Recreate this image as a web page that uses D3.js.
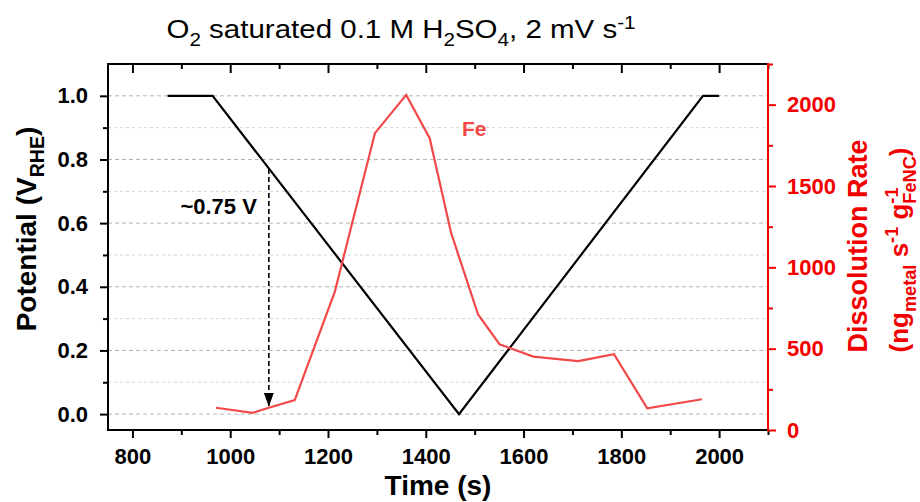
<!DOCTYPE html>
<html>
<head>
<meta charset="utf-8">
<script src="https://cdn.jsdelivr.net/npm/d3@7"></script>
<style>
  body { margin: 0; background: #fff; }
  svg { display: block; font-family: "Liberation Sans", Arial, sans-serif; }
</style>
</head>
<body>
<div id="chart"></div>
<script>
(function() {
    'use strict';

    // potential program (black, left axis)
    const potTime = [872, 964, 1468, 1967, 2000];
    const potValue = [1.0, 1.0, 0.0, 1.0, 1.0];

    // Fe dissolution rate (red, right axis)
    const feTime = [971, 1046, 1079, 1132, 1214, 1296, 1360, 1408, 1452, 1507, 1551, 1620, 1712, 1785, 1853, 1965];
    const feRate = [137, 106, 137, 184, 851, 1825, 2060, 1794, 1210, 710, 527, 451, 424, 466, 133, 189];

    // tick labels
    const xTicks = [800, 1000, 1200, 1400, 1600, 1800, 2000];
    const xMinor = [900, 1100, 1300, 1500, 1700, 1900, 2100];
    const yLeftTicks = [0.0, 0.2, 0.4, 0.6, 0.8, 1.0];
    const yLeftMinor = [0.1, 0.3, 0.5, 0.7, 0.9];
    const yRightTicks = [0, 500, 1000, 1500, 2000];
    const yRightMinor = [250, 750, 1250, 1750, 2250];

    // annotation
    const arrowTime = 1079;
    const arrowFrom = 0.77;   // V, on the black line
    const arrowTo = 137;      // rate, on the red line

    const width = 920, height = 502;
    const margin = { top: 64, right: 152, bottom: 72, left: 108 };
    const W = width - margin.left - margin.right;
    const H = height - margin.top - margin.bottom;

    const RED = '#f20000';
    const LINE_RED = '#f24848';

    const svg = d3.select('#chart').append('svg')
        .attr('width', width)
        .attr('height', height);

    const g = svg.append('g')
        .attr('transform', `translate(${margin.left},${margin.top})`);

    const x = d3.scaleLinear().domain([750, 2100]).range([0, W]);
    const yL = d3.scaleLinear().domain([-0.05, 1.1]).range([H, 0]);
    const yR = d3.scaleLinear().domain([0, 2250]).range([H, 0]);

    // grid lines
    g.append('g').selectAll('line.minor')
        .data(yLeftMinor)
        .enter().append('line')
        .attr('x1', 0).attr('x2', W)
        .attr('y1', d => yL(d)).attr('y2', d => yL(d))
        .attr('stroke', '#d4d4d4')
        .attr('stroke-width', 1)
        .attr('stroke-dasharray', '3,3');
    g.append('g').selectAll('line.major')
        .data(yLeftTicks)
        .enter().append('line')
        .attr('x1', 0).attr('x2', W)
        .attr('y1', d => yL(d)).attr('y2', d => yL(d))
        .attr('stroke', '#b4b4b4')
        .attr('stroke-width', 1)
        .attr('stroke-dasharray', '4,3');

    // axes
    function styleAxis(sel, color) {
        sel.selectAll('.domain').remove();
        sel.selectAll('line').attr('stroke', color).attr('stroke-width', 2);
        sel.selectAll('text')
            .attr('fill', color)
            .style('font-size', '22px')
            .style('font-weight', 'bold')
            .style('font-family', '"Liberation Sans", Arial, sans-serif');
    }

    const xAxis = g.append('g').attr('transform', `translate(0,${H})`)
        .call(d3.axisBottom(x).tickValues(xTicks).tickSize(8).tickPadding(10).tickFormat(d3.format('d')));
    styleAxis(xAxis, '#000');
    const xAxisMinor = g.append('g').attr('transform', `translate(0,${H})`)
        .call(d3.axisBottom(x).tickValues(xMinor).tickSize(5).tickFormat(''));
    styleAxis(xAxisMinor, '#000');

    const topAxis = g.append('g')
        .call(d3.axisBottom(x).tickValues(xTicks).tickSize(9).tickFormat(''));
    styleAxis(topAxis, '#000');
    const topAxisMinor = g.append('g')
        .call(d3.axisBottom(x).tickValues(xMinor).tickSize(5).tickFormat(''));
    styleAxis(topAxisMinor, '#000');

    const leftAxis = g.append('g')
        .call(d3.axisLeft(yL).tickValues(yLeftTicks).tickSize(8).tickPadding(12).tickFormat(d3.format('.1f')));
    styleAxis(leftAxis, '#000');
    const leftAxisMinor = g.append('g')
        .call(d3.axisLeft(yL).tickValues(yLeftMinor).tickSize(5).tickFormat(''));
    styleAxis(leftAxisMinor, '#000');

    const rightAxis = g.append('g').attr('transform', `translate(${W},0)`)
        .call(d3.axisRight(yR).tickValues(yRightTicks).tickSize(8).tickPadding(11).tickFormat(d3.format('d')));
    styleAxis(rightAxis, RED);
    const rightAxisMinor = g.append('g').attr('transform', `translate(${W},0)`)
        .call(d3.axisRight(yR).tickValues(yRightMinor).tickSize(5).tickFormat(''));
    styleAxis(rightAxisMinor, RED);

    // frame
    g.append('path')
        .attr('d', `M${W},0H0V${H}H${W}`)
        .attr('fill', 'none')
        .attr('stroke', '#000')
        .attr('stroke-width', 2);
    g.append('line')
        .attr('x1', W).attr('x2', W).attr('y1', -1).attr('y2', H + 1)
        .attr('stroke', RED)
        .attr('stroke-width', 2);

    // data lines
    const potData = potTime.map((t, i) => [t, potValue[i]]);
    const feData = feTime.map((t, i) => [t, feRate[i]]);

    g.append('path')
        .datum(potData)
        .attr('fill', 'none')
        .attr('stroke', '#000')
        .attr('stroke-width', 2.2)
        .attr('d', d3.line().x(d => x(d[0])).y(d => yL(d[1])));

    g.append('path')
        .datum(feData)
        .attr('fill', 'none')
        .attr('stroke', LINE_RED)
        .attr('stroke-width', 2.2)
        .attr('d', d3.line().x(d => x(d[0])).y(d => yR(d[1])));

    // arrow annotation
    svg.append('defs').append('marker')
        .attr('id', 'arrowhead')
        .attr('viewBox', '0 0 10 14')
        .attr('refX', 5).attr('refY', 14)
        .attr('markerWidth', 10).attr('markerHeight', 14)
        .attr('markerUnits', 'userSpaceOnUse')
        .attr('orient', '0')
        .append('path')
        .attr('d', 'M0,0 L10,0 L5,14 Z')
        .attr('fill', '#000');

    g.append('line')
        .attr('x1', x(arrowTime)).attr('x2', x(arrowTime))
        .attr('y1', yL(arrowFrom)).attr('y2', yR(arrowTo) - 1)
        .attr('stroke', '#000')
        .attr('stroke-width', 1.6)
        .attr('stroke-dasharray', '5,3')
        .attr('marker-end', 'url(#arrowhead)');

    g.append('text')
        .attr('x', x(arrowTime) - 12)
        .attr('y', yL(0.63))
        .attr('text-anchor', 'end')
        .style('font-size', '22px')
        .style('font-weight', 'bold')
        .text('~0.75 V');

    g.append('text')
        .attr('x', x(1474))
        .attr('y', yR(1808))
        .attr('fill', LINE_RED)
        .style('font-size', '21px')
        .style('font-weight', 'bold')
        .text('Fe');

    // rich text helper: parts with sub / sup offsets
    function richText(textSel, parts, baseSize) {
        let shift = 0;
        parts.forEach(p => {
            let target = 0, size = baseSize;
            if (p.sub) { target = baseSize * 0.3; size = baseSize * 0.7; }
            if (p.sup) { target = -baseSize * 0.38; size = baseSize * 0.7; }
            const ts = textSel.append('tspan')
                .attr('dy', target - shift)
                .style('font-size', size + 'px')
                .text(p.t);
            if (p.back) {
                const prev = textSel.selectAll('tspan').nodes();
                const len = prev[prev.length - 2].getComputedTextLength();
                ts.attr('dx', -len);
            }
            shift = target;
        });
    }

    // title (the reference lettering is set wide)
    const title = svg.append('text')
        .attr('transform', 'translate(401,38) scale(1.18,1)')
        .attr('text-anchor', 'middle')
        .attr('fill', '#000');
    richText(title, [
        { t: 'O' }, { t: '2', sub: true }, { t: ' saturated 0.1 M H' }, { t: '2', sub: true },
        { t: 'SO' }, { t: '4', sub: true }, { t: ', 2 mV s' }, { t: '-1', sup: true }
    ], 25);

    // axis titles
    svg.append('text')
        .attr('x', margin.left + W / 2)
        .attr('y', 495)
        .attr('text-anchor', 'middle')
        .style('font-size', '28px')
        .style('font-weight', 'bold')
        .text('Time (s)');

    const leftTitle = svg.append('text')
        .attr('transform', 'translate(36,229) rotate(-90)')
        .attr('text-anchor', 'middle')
        .style('font-weight', 'bold');
    richText(leftTitle, [{ t: 'Potential (V' }, { t: 'RHE', sub: true }, { t: ')' }], 28);

    svg.append('text')
        .attr('transform', 'translate(867,246) rotate(-90)')
        .attr('text-anchor', 'middle')
        .attr('fill', RED)
        .style('font-size', '27px')
        .style('font-weight', 'bold')
        .text('Dissolution Rate');

    const rightTitle2 = svg.append('text')
        .attr('transform', 'translate(908,250) rotate(-90)')
        .attr('text-anchor', 'middle')
        .attr('fill', RED)
        .style('font-weight', 'bold');
    richText(rightTitle2, [
        { t: '(ng' }, { t: 'metal', sub: true }, { t: ' s' }, { t: '-1', sup: true },
        { t: ' g' }, { t: '-1', sup: true }, { t: 'FeNC', sub: true, back: true }, { t: ')' }
    ], 26);
})();
</script>
</body>
</html>
